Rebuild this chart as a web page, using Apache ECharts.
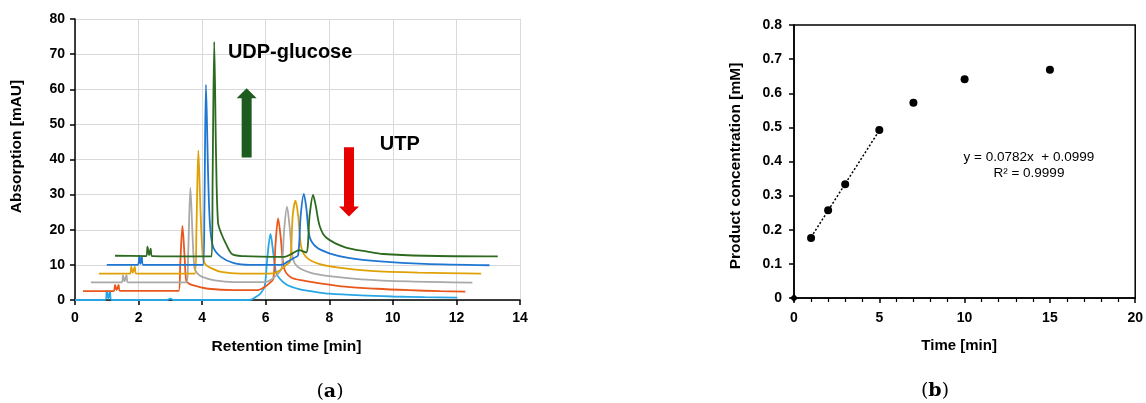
<!DOCTYPE html>
<html>
<head>
<meta charset="utf-8">
<script src="https://cdn.jsdelivr.net/npm/echarts@6/dist/echarts.min.js"></script>
<style>
html,body{margin:0;padding:0;background:#fff;}
#chart{width:1146px;height:403px;}
</style>
</head>
<body>
<div id="chart"></div>
<script>
// ---------- (a) chromatograms: [retention time (min), absorption (mAU)] ----------
const trace1 = [[0,0],[0.95,0],[1.0,2.5],[1.05,0.3],[1.1,2.5],[1.15,0],[2.9,0],[3.0,0.4],[3.1,0],[5.5,0],[5.7,0.9],[5.85,2.0],[5.97,4.0],[6.05,12],[6.15,18.8],[6.23,14],[6.32,8],[6.43,6.2],[6.65,4.4],[7.05,3.1],[7.5,2.4],[8.0,1.8],[9.0,1.3],[10.0,1.0],[11.0,0.8],[12.03,0.66]];
const trace2 = [[0.25,2.5],[1.21,2.5],[1.26,4.3],[1.31,2.8],[1.37,4.3],[1.42,2.6],[3.26,2.6],[3.31,10],[3.38,21.1],[3.45,12],[3.5,5.5],[3.6,4.6],[3.8,4.0],[4.2,3.2],[5.0,2.8],[5.75,2.8],[5.95,3.6],[6.12,4.8],[6.24,6.0],[6.31,16],[6.39,23.2],[6.47,18],[6.58,9],[6.8,6.4],[7.2,5.5],[7.6,4.9],[8.5,3.8],[9.5,3.2],[10.5,2.8],[11.5,2.5],[12.28,2.4]];
const trace3 = [[0.5,5],[1.47,5],[1.51,7.1],[1.56,5.3],[1.62,7.1],[1.67,5],[3.51,5],[3.56,13],[3.63,31.9],[3.7,18],[3.76,9],[3.85,7.6],[4.0,6.6],[4.4,5.6],[5.0,5.1],[6.0,5.1],[6.2,6.0],[6.38,7.4],[6.5,9],[6.58,20],[6.67,26.6],[6.75,21],[6.85,12],[7.0,9.5],[7.4,7.8],[8.0,6.8],[9.0,5.9],[10.5,5.3],[12.5,4.95]];
const trace4 = [[0.75,7.5],[1.73,7.5],[1.77,9.5],[1.82,7.8],[1.88,9.5],[1.93,7.5],[3.77,7.5],[3.82,20],[3.88,42.6],[3.95,25],[4.02,12.5],[4.1,10.2],[4.3,9],[4.6,8],[5.2,7.5],[6.25,7.6],[6.45,8.5],[6.65,10],[6.77,11],[6.85,24],[6.94,28.3],[7.02,24],[7.12,15],[7.3,12],[7.7,10.2],[8.3,9.2],[9.3,8.3],[10.8,7.8],[12.78,7.5]];
const trace5 = [[1.0,10],[1.98,10],[2.02,12.6],[2.06,10.3],[2.1,12.4],[2.15,10],[4.03,10],[4.07,25],[4.12,61.3],[4.19,35],[4.25,21],[4.35,15],[4.6,12.2],[5.0,10.5],[5.5,10],[6.5,10],[6.7,11],[6.9,12],[7.02,12.8],[7.1,24],[7.2,30.2],[7.28,26],[7.38,18],[7.6,15],[8.0,13.3],[8.6,12],[9.6,11],[11.0,10.3],[13.04,9.9]];
const trace6 = [[1.26,12.6],[2.24,12.5],[2.28,15.2],[2.33,12.8],[2.38,14.6],[2.43,12.5],[4.3,12.4],[4.33,35],[4.38,73.5],[4.44,40],[4.5,22],[4.6,19],[4.75,16],[4.95,13],[5.3,12.5],[6.6,12.3],[6.85,13.3],[7.05,14.2],[7.27,13.5],[7.38,24],[7.49,29.9],[7.57,27],[7.7,21],[7.9,17.8],[8.5,15],[9.2,13.8],[9.7,13.1],[11.0,12.6],[13.3,12.4]];
const traces = [trace1, trace2, trace3, trace4, trace5, trace6];
const traceColors = ['#27a5e4', '#e8581c', '#a9a9a9', '#e0a106', '#1f77d4', '#2c6a20'];

// axis ticks (a)
const xTicksA = [0, 14, 2];   // min, max, step
const yTicksA = [0, 80, 10];

// annotations (a)
const arrowUp = [5.40, 40.6, 60.3];     // x, y tail, y tip
const arrowDown = [8.62, 43.5, 23.8];
const annotationTexts = ['UDP-glucose', 'UTP'];
const annotationX = [4.81, 9.59];
const annotationY = [70.5, 44.3];

// ---------- (b) product concentration ----------
const timeMin = [1, 2, 3, 5, 7, 10, 15];
const productConc = [0.176, 0.257, 0.333, 0.492, 0.572, 0.641, 0.669];
const zeroPoint = [[0, 0]];
const trendX = [1, 5];
const trendY = [0.178, 0.491];
const equationText = ['y = 0.0782x  + 0.0999', 'R² = 0.9999'];
const equationPos = [13.77, 0.388];
const xTicksB = [0, 20, 5];
const yTicksB = [0, 0.8, 0.1];

const FONT = '"Liberation Sans", Arial, sans-serif';
const tickLabel = {color:'#000', fontFamily:FONT, fontWeight:'bold', fontSize:14};
const axisLineStyle = {show:true, lineStyle:{color:'#000', width:1.5}};
const tickStyle = {show:true, inside:false, length:5, lineStyle:{color:'#000', width:1.5}};

const lineSeries = traces.map((tr, i) => ({
  type:'line', xAxisIndex:0, yAxisIndex:0, data:tr, showSymbol:false, symbol:'none',
  smooth:0.3, lineStyle:{color:traceColors[i], width:1.8}, itemStyle:{color:traceColors[i]},
  z: 2 + i, silent:true
}));

function arrowRender(params, api) {
  const x = api.value(0), yTail = api.value(1), yTip = api.value(2);
  const tail = api.coord([x, yTail]);
  const tip = api.coord([x, yTip]);
  const dir = tip[1] < tail[1] ? -1 : 1;
  const shaftHalf = 5, headHalf = 10, headLen = 10;
  const headBase = tip[1] - dir * headLen;
  const cx = tail[0];
  return {
    type:'polygon',
    shape:{points:[
      [cx - shaftHalf, tail[1]], [cx - shaftHalf, headBase], [cx - headHalf, headBase],
      [cx, tip[1]], [cx + headHalf, headBase], [cx + shaftHalf, headBase], [cx + shaftHalf, tail[1]]
    ]},
    style:{fill: api.visual('color')}
  };
}

function textRender(params, api) {
  const p = api.coord([api.value(0), api.value(1)]);
  return {
    type:'text', x:p[0], y:p[1],
    style:{text: annotationTexts[params.dataIndex], fill:'#000', font:'bold 20px ' + FONT, align:'left', verticalAlign:'middle'}
  };
}

const option = {
  animation:false,
  backgroundColor:'#fff',
  title:[
    {text:'({a|a})', left:325, top:378, textAlign:'center',
     textStyle:{fontFamily:'"DejaVu Serif", serif', fontSize:19, fontWeight:'normal', color:'#000',
       rich:{a:{fontFamily:'"DejaVu Serif", serif', fontSize:19, fontWeight:'bold', color:'#000'}}}},
    {text:'({b|b})', left:930, top:377, textAlign:'center',
     textStyle:{fontFamily:'"DejaVu Serif", serif', fontSize:19, fontWeight:'normal', color:'#000',
       rich:{b:{fontFamily:'"DejaVu Serif", serif', fontSize:19, fontWeight:'bold', color:'#000'}}}}
  ],
  grid:[
    {left:75, top:19, width:445, height:281, show:false},
    {left:794, top:25, width:343, height:273, show:true, borderColor:'#000', borderWidth:1.5, backgroundColor:'transparent'}
  ],
  xAxis:[
    {gridIndex:0, type:'value', min:xTicksA[0], max:xTicksA[1], interval:xTicksA[2],
     axisLine:axisLineStyle, axisTick:tickStyle,
     axisLabel:Object.assign({margin:11}, tickLabel),
     splitLine:{show:true, lineStyle:{color:'#d9d9d9', width:1}},
     name:'Retention time [min]', nameLocation:'middle', nameGap:39,
     nameTextStyle:{color:'#000', fontFamily:FONT, fontWeight:'bold', fontSize:15.5, padding:[0,22,0,0]}},
    {gridIndex:1, type:'value', min:xTicksB[0], max:xTicksB[1], interval:xTicksB[2],
     axisLine:axisLineStyle, axisTick:tickStyle,
     minorTick:{show:true, splitNumber:5, length:4, lineStyle:{color:'#000', width:1.2}},
     axisLabel:Object.assign({margin:13}, tickLabel),
     splitLine:{show:false},
     name:'Time [min]', nameLocation:'middle', nameGap:40,
     nameTextStyle:{color:'#000', fontFamily:FONT, fontWeight:'bold', fontSize:15, padding:[0,11,0,0]}}
  ],
  yAxis:[
    {gridIndex:0, type:'value', min:yTicksA[0], max:yTicksA[1], interval:yTicksA[2],
     axisLine:axisLineStyle, axisTick:tickStyle,
     axisLabel:Object.assign({margin:10}, tickLabel),
     splitLine:{show:true, lineStyle:{color:'#d9d9d9', width:1}},
     name:'Absorption [mAU]', nameLocation:'middle', nameGap:50,
     nameTextStyle:{color:'#000', fontFamily:FONT, fontWeight:'bold', fontSize:15.5, padding:[0,0,0,26]}},
    {gridIndex:1, type:'value', min:yTicksB[0], max:yTicksB[1], interval:yTicksB[2],
     axisLine:axisLineStyle, axisTick:tickStyle,
     axisLabel:Object.assign({margin:12, formatter:v => v === 0 ? '0' : v.toFixed(1)}, tickLabel),
     splitLine:{show:false},
     name:'Product concentration [mM]', nameLocation:'middle', nameGap:50,
     nameTextStyle:{color:'#000', fontFamily:FONT, fontWeight:'bold', fontSize:15.5, padding:[0,9,0,0]}}
  ],
  series: lineSeries.concat([
    {type:'custom', xAxisIndex:0, yAxisIndex:0, renderItem:arrowRender, silent:true, z:10,
     data:[{value:arrowUp, itemStyle:{color:'#1e5b1e'}}, {value:arrowDown, itemStyle:{color:'#e60000'}}]},
    {type:'custom', xAxisIndex:0, yAxisIndex:0, renderItem:textRender, silent:true, z:10,
     data:annotationX.map((x, i) => [x, annotationY[i]])},
    {type:'line', xAxisIndex:1, yAxisIndex:1, data:trendX.map((x, i) => [x, trendY[i]]),
     showSymbol:false, symbol:'none', lineStyle:{color:'#000', width:1.5, type:[2,2]}, silent:true, z:3},
    {type:'scatter', xAxisIndex:1, yAxisIndex:1, data:timeMin.map((t, i) => [t, productConc[i]]),
     symbol:'circle', symbolSize:8, itemStyle:{color:'#000', opacity:1}, silent:true, z:4},
    {type:'scatter', xAxisIndex:1, yAxisIndex:1, data:zeroPoint,
     symbol:'diamond', symbolSize:8, itemStyle:{color:'#000', opacity:1}, silent:true, z:4},
    {type:'custom', xAxisIndex:1, yAxisIndex:1, silent:true, z:10,
     renderItem:(params, api) => {
       const p = api.coord([api.value(0), api.value(1)]);
       return {type:'text', x:p[0], y:p[1],
         style:{text:equationText.join('\n'), fill:'#000', font:'13.5px ' + FONT, align:'center', verticalAlign:'middle', lineHeight:16}};
     },
     data:[equationPos]}
  ])
};

const chart = echarts.init(document.getElementById('chart'), null, {renderer:'canvas'});
chart.setOption(option);
</script>
</body>
</html>
